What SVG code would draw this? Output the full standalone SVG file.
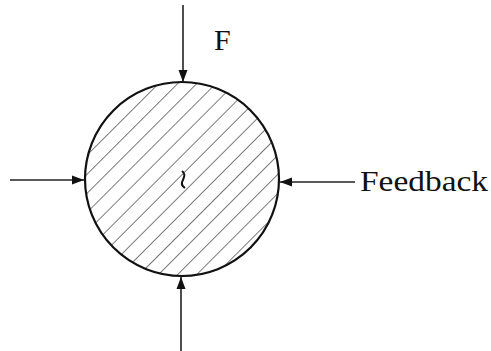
<svg xmlns="http://www.w3.org/2000/svg" width="491" height="351" viewBox="0 0 491 351">
<style>
.ln{stroke:#222;stroke-width:1.6;fill:none}
.lbl{font-family:"Liberation Serif","DejaVu Serif",serif;font-size:30px;fill:#111}
</style>
<defs>
<marker id="ah" viewBox="0 0 12 10" refX="12" refY="5" markerWidth="12" markerHeight="10" markerUnits="userSpaceOnUse" orient="auto">
<path d="M0,0.5 L12,5 L0,9.5 Z" fill="#111"/>
</marker>
<pattern id="hatch" patternUnits="userSpaceOnUse" width="13.5" height="13.5" patternTransform="rotate(-45 182 179)">
<line x1="0" y1="0" x2="13.5" y2="0" stroke="#333" stroke-width="1.3"/>
</pattern>
</defs>
<rect width="491" height="351" fill="#fff"/>
<g id="body">
<circle cx="182" cy="179" r="97" fill="url(#hatch)"/>
<circle cx="182" cy="179" r="97" fill="none" stroke="#111" stroke-width="2.2"/>
<path d="M182,171 C186,174 184,177 183,180 C181,183 182,186 185,188" fill="none" stroke="#111" stroke-width="2"/>
</g>
<g id="connectors">
<line class="ln" x1="183" y1="5" x2="183" y2="82" marker-end="url(#ah)"/>
<line class="ln" x1="10" y1="180" x2="84" y2="180" stroke-width="2.2" marker-end="url(#ah)"/>
<line class="ln" x1="355" y1="182" x2="280" y2="182" marker-end="url(#ah)"/>
<line class="ln" x1="181" y1="351" x2="181" y2="277" marker-end="url(#ah)"/>
</g>
<g id="label-F"><text class="lbl" x="214" y="50">F</text></g>
<g id="label-feedback"><text class="lbl" x="360" y="191" textLength="128" lengthAdjust="spacingAndGlyphs">Feedback</text></g>
</svg>
